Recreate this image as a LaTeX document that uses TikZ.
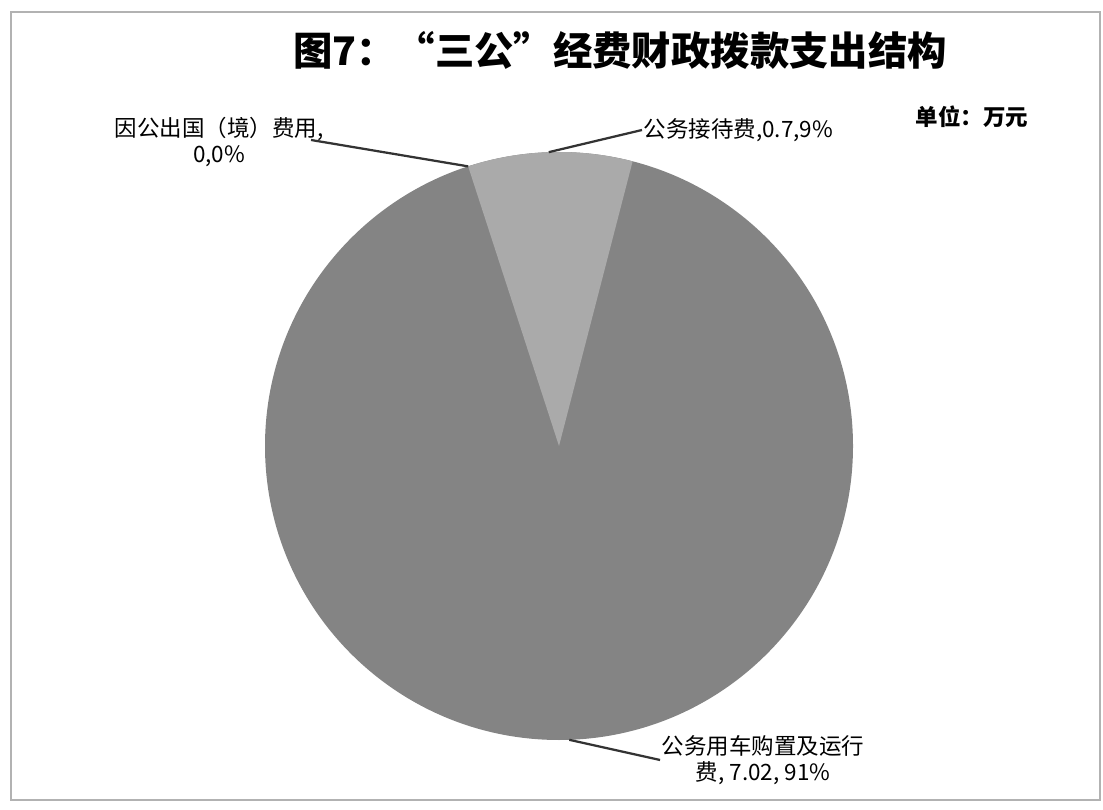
\documentclass[tikz,border=0pt]{standalone}
\usepackage{fontspec}
\usepackage{tikz, tkz-euclide}
\newfontfamily\cjk{Noto Sans CJK SC}
\definecolor{darkslice}{RGB}{132,132,132}
\definecolor{lightslice}{RGB}{170,170,170}
\tikzset{
    leader/.style = {line width=1.6pt, black!80},
    lbl/.style = {font=\cjk\fontsize{16}{19}\selectfont, inner sep=1pt, align=center}
}

\begin{document}
\begin{tikzpicture}[x=0.025cm, y=0.025cm]
    \useasboundingbox (0,0) rectangle (1103,809);
    \draw [gray!60, line width=0.8pt] (11,9) rectangle (1100,797);
    \tkzDefPoints{559/363/O}
    \tkzDefShiftPoint[O](108:294){A}
    \tkzDefShiftPoint[O](75.5:294){B}
    \tkzDefShiftPoint[O](92:294){C}
    \tkzDefShiftPoint[O](-88:294){D}
    \fill [darkslice] (O) circle (294);
    \path [fill=lightslice] (O) -- (B) arc (75.5:108:294) -- cycle;
    \node [font=\cjk\bfseries\fontsize{28}{32}\selectfont] (title) at (620,759) {图7：“三公”经费财政拨款支出结构};
    \node [font=\cjk\bfseries\fontsize{16}{19}\selectfont] (unit) at (972,692) {单位：万元};
    \node [lbl] (abroad) at (219,667) {因公出国（境）费用,\\0,0\%};
    \node [lbl, anchor=west] (recep) at (642,679) {公务接待费,0.7,9\%};
    \node [lbl] (vehicle) at (763,49) {公务用车购置及运行\\费, 7.02, 91\%};
    \draw [leader] (abroad.east) ++(-14,2) -- (A);
    \draw [leader] (recep.west) -- (C);
    \draw [leader] (vehicle.west) -- (D);
\end{tikzpicture}
\end{document}
